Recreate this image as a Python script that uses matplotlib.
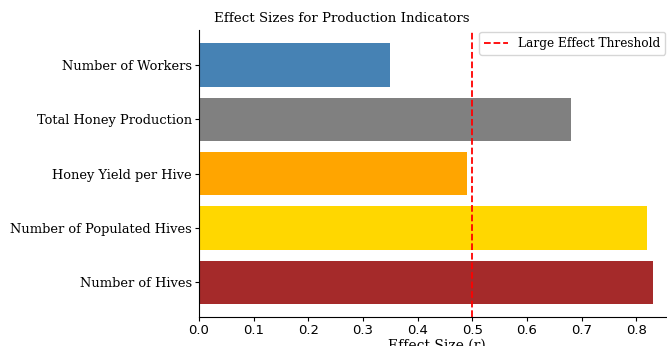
import matplotlib
matplotlib.use("Agg")
import matplotlib.pyplot as plt

indicators = [
    "Number of Hives",
    "Number of Populated Hives",
    "Honey Yield per Hive",
    "Total Honey Production",
    "Number of Workers",
]
effect_sizes = [0.83, 0.82, 0.49, 0.68, 0.35]
bar_colors = ["brown", "gold", "orange", "gray", "steelblue"]
threshold = 0.5
x_ticks = [0.0, 0.1, 0.2, 0.3, 0.4, 0.5, 0.6, 0.7, 0.8]

fig = plt.figure(figsize=(6.67, 3.46), dpi=100)
ax = fig.add_axes([0.2984, 0.0838, 0.714, 0.829])

ax.barh(indicators, effect_sizes, color=bar_colors)
ax.axvline(threshold, color="red", linestyle="--", linewidth=1.3, label="Large Effect Threshold")

ax.set_xticks(x_ticks)
ax.set_xticklabels([f"{t:.1f}" for t in x_ticks], fontsize=9.5, family="DejaVu Sans")
for lbl in ax.get_yticklabels():
    lbl.set_family("DejaVu Serif")
    lbl.set_fontsize(9.4)
ax.tick_params(length=3, width=0.8, pad=2)
ax.set_xlabel("Effect Size (r)", family="DejaVu Serif", fontsize=10, labelpad=1)

for side in ("top", "right"):
    ax.spines[side].set_visible(False)

fig.text(342 / 667, 1 - 18 / 346, "Effect Sizes for Production Indicators",
         ha="center", va="center", family="DejaVu Serif", fontsize=9.6)

ax.legend(loc="upper right", bbox_to_anchor=(665 / 667, 1 - 32 / 346),
          bbox_transform=fig.transFigure, prop={"family": "DejaVu Serif", "size": 8.7},
          frameon=True, borderaxespad=0)

fig.savefig("out.png", dpi=100)
